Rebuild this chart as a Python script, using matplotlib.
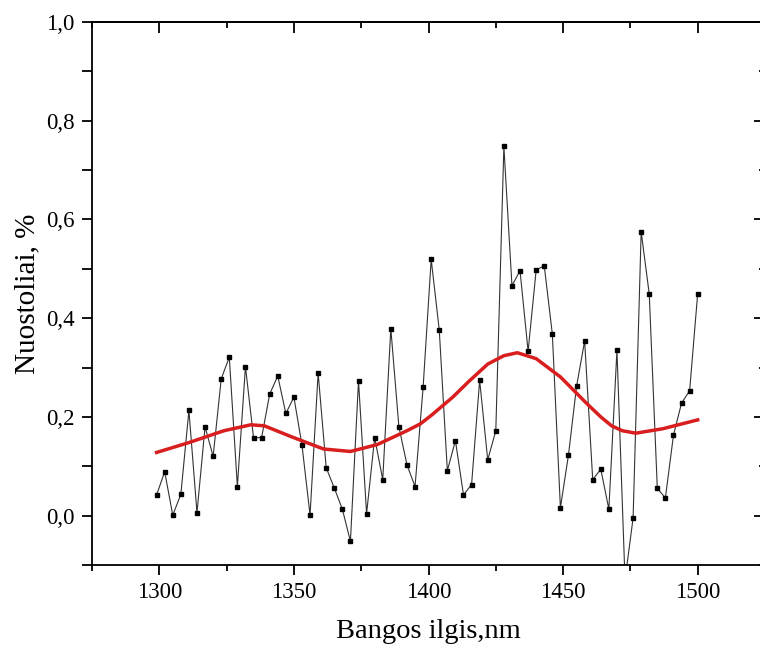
import numpy as np
import matplotlib
matplotlib.use('Agg')
import matplotlib.pyplot as plt
from matplotlib.ticker import MultipleLocator, FuncFormatter

# measured losses, 1299..1500 nm in 3 nm steps
wavelength = np.arange(1299, 1501, 3)
loss = [0.042, 0.089, 0.001, 0.043, 0.213, 0.006, 0.180, 0.120, 0.277, 0.321,
        0.059, 0.302, 0.158, 0.158, 0.246, 0.283, 0.207, 0.240, 0.143, 0.001,
        0.289, 0.097, 0.056, 0.013, -0.052, 0.273, 0.004, 0.158, 0.073, 0.379,
        0.180, 0.103, 0.059, 0.260, 0.519, 0.376, 0.091, 0.152, 0.042, 0.063,
        0.274, 0.113, 0.172, 0.748, 0.466, 0.496, 0.333, 0.498, 0.506, 0.368,
        0.016, 0.123, 0.262, 0.354, 0.073, 0.094, 0.013, 0.335, -0.130, -0.005,
        0.575, 0.449, 0.055, 0.036, 0.163, 0.228, 0.253, 0.450]

# smooth fit curve (red)
fit_x = [1299, 1311, 1324, 1334, 1339, 1349, 1361, 1371, 1381, 1392, 1397,
         1401, 1409, 1415, 1422, 1428, 1433, 1440, 1449, 1459, 1464, 1468,
         1472, 1477, 1487, 1500]
fit_y = [0.128, 0.148, 0.172, 0.184, 0.182, 0.160, 0.135, 0.130, 0.144, 0.172,
         0.186, 0.203, 0.240, 0.272, 0.307, 0.324, 0.330, 0.318, 0.281, 0.226,
         0.200, 0.182, 0.172, 0.167, 0.176, 0.194]

plt.rcParams['font.family'] = ['Liberation Serif', 'DejaVu Serif']

fig = plt.figure(figsize=(7.6, 6.52), dpi=100)
ax = fig.add_axes([92/760, 87/652, (765-92)/760, (565-22)/652])

ax.plot(wavelength, loss, color='#333333', lw=0.8, marker='s', ms=2.8,
        mfc='black', mec='black')
ax.plot(fit_x, fit_y, color='#d81e1e', lw=2.5, solid_joinstyle='round')

ax.set_xlim(1275, 1525)
ax.set_ylim(-0.1, 1.0)

comma = FuncFormatter(lambda v, p: f'{v:.1f}'.replace('.', ','))
ax.xaxis.set_major_locator(MultipleLocator(50))
ax.xaxis.set_minor_locator(MultipleLocator(25))
ax.yaxis.set_major_locator(MultipleLocator(0.2))
ax.yaxis.set_minor_locator(MultipleLocator(0.1))
ax.yaxis.set_major_formatter(comma)

for s in ax.spines.values():
    s.set_linewidth(1.3)

ax.tick_params(axis='both', which='major', direction='out', length=7.5,
               width=1.3, labelsize=16.5, pad=5)
ax.tick_params(axis='x', which='minor', direction='out', length=4, width=1.3)
ax.tick_params(axis='y', which='minor', direction='out', length=7.5, width=1.3)

# top and right axes with inward ticks, no labels
top = ax.secondary_xaxis('top')
top.xaxis.set_major_locator(MultipleLocator(50))
top.xaxis.set_minor_locator(MultipleLocator(25))
top.tick_params(which='major', direction='in', length=8, width=1.3, labeltop=False)
top.tick_params(which='minor', direction='in', length=4, width=1.3)
top.spines['top'].set_linewidth(1.3)

right = ax.secondary_yaxis('right')
right.yaxis.set_major_locator(MultipleLocator(0.2))
right.yaxis.set_minor_locator(MultipleLocator(0.1))
right.tick_params(which='major', direction='in', length=8, width=1.3, labelright=False)
right.tick_params(which='minor', direction='in', length=4, width=1.3)

ax.set_xlabel('Bangos ilgis,nm', fontsize=20.5)
ax.set_ylabel('Nuostoliai, %', fontsize=21)
ax.xaxis.set_label_coords(0.5, -0.1)
ax.yaxis.set_label_coords(-0.076, 0.5)

fig.savefig('out.png', dpi=100)
